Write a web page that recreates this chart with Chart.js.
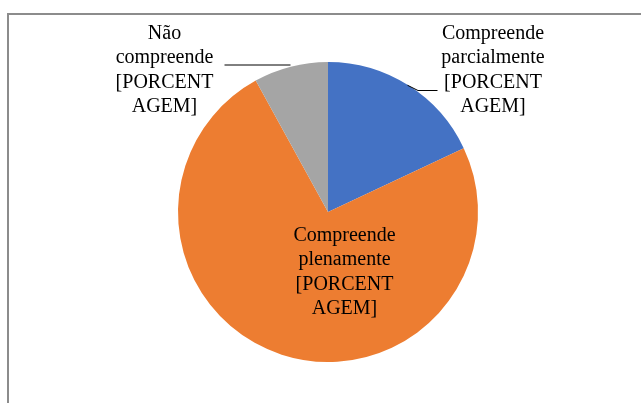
<!DOCTYPE html>
<html>
<head>
<meta charset="utf-8">
<script src="https://cdn.jsdelivr.net/npm/chart.js@4"></script>
<style>
    html, body { margin: 0; padding: 0; background: #fff; }
    #wrap { position: relative; width: 641px; height: 403px; overflow: hidden; }
    #frame {
        position: absolute; left: 7px; top: 13px; width: 700px; height: 500px;
        border-left: 2px solid #8c8c8c; border-top: 2px solid #8c8c8c;
    }
    #chartCanvas { position: absolute; left: 0; top: 0; }
</style>
</head>
<body>
<div id="wrap">
    <div id="frame"></div>
    <canvas id="chartCanvas" width="641" height="403"></canvas>
</div>
<script>
// data
const categories = ['Compreende parcialmente', 'Compreende plenamente', 'Não compreende'];
const values = [18, 74, 8];
const sliceColors = ['#4472C4', '#ED7D31', '#A5A5A5'];
// label text lines as shown in the chart
const labelLines = [
    ['Compreende', 'parcialmente', '[PORCENT', 'AGEM]'],
    ['Compreende', 'plenamente', '[PORCENT', 'AGEM]'],
    ['Não', 'compreende', '[PORCENT', 'AGEM]']
];

// label placement, in units of the pie radius from its centre
const labelSpots = [
    { x: 1.10, y: -0.945, leader: [[0.53, -0.845], [0.60, -0.81], [0.73, -0.81]] },
    { x: 0.11, y: 0.40 },
    { x: -1.09, y: -0.945, leader: [[-0.69, -0.98], [-0.25, -0.98]] }
];

const labelPlugin = {
    id: 'sliceLabels',
    afterDatasetsDraw(chart) {
        const ctx = chart.ctx;
        const arcs = chart.getDatasetMeta(0).data;
        ctx.save();
        ctx.font = '20px "Liberation Serif", "Times New Roman", serif';
        ctx.fillStyle = '#000';
        ctx.textAlign = 'center';
        ctx.textBaseline = 'middle';
        arcs.forEach(function(arc, i) {
            const spot = labelSpots[i];
            const r = arc.outerRadius;
            const lines = labelLines[i];
            const lh = 24.5;
            const cx = arc.x + spot.x * r;
            const cy = arc.y + spot.y * r;
            lines.forEach(function(t, k) {
                ctx.fillText(t, cx, cy + (k - (lines.length - 1) / 2) * lh);
            });
            if (spot.leader) {
                ctx.beginPath();
                ctx.strokeStyle = '#000';
                ctx.lineWidth = 1;
                spot.leader.forEach(function(p, k) {
                    const px = arc.x + p[0] * r, py = arc.y + p[1] * r;
                    if (k === 0) ctx.moveTo(px, py); else ctx.lineTo(px, py);
                });
                ctx.stroke();
            }
        });
        ctx.restore();
    }
};

document.addEventListener('DOMContentLoaded', function() {
    const ctx = document.getElementById('chartCanvas').getContext('2d');
    new Chart(ctx, {
        type: 'pie',
        data: {
            labels: categories,
            datasets: [{
                data: values,
                backgroundColor: sliceColors,
                borderWidth: 0
            }]
        },
        options: {
            responsive: false,
            animation: false,
            layout: { padding: { left: 178, right: 163, top: 62, bottom: 41 } },
            plugins: {
                legend: { display: false },
                tooltip: { enabled: false }
            }
        },
        plugins: [labelPlugin]
    });
});
</script>
</body>
</html>
